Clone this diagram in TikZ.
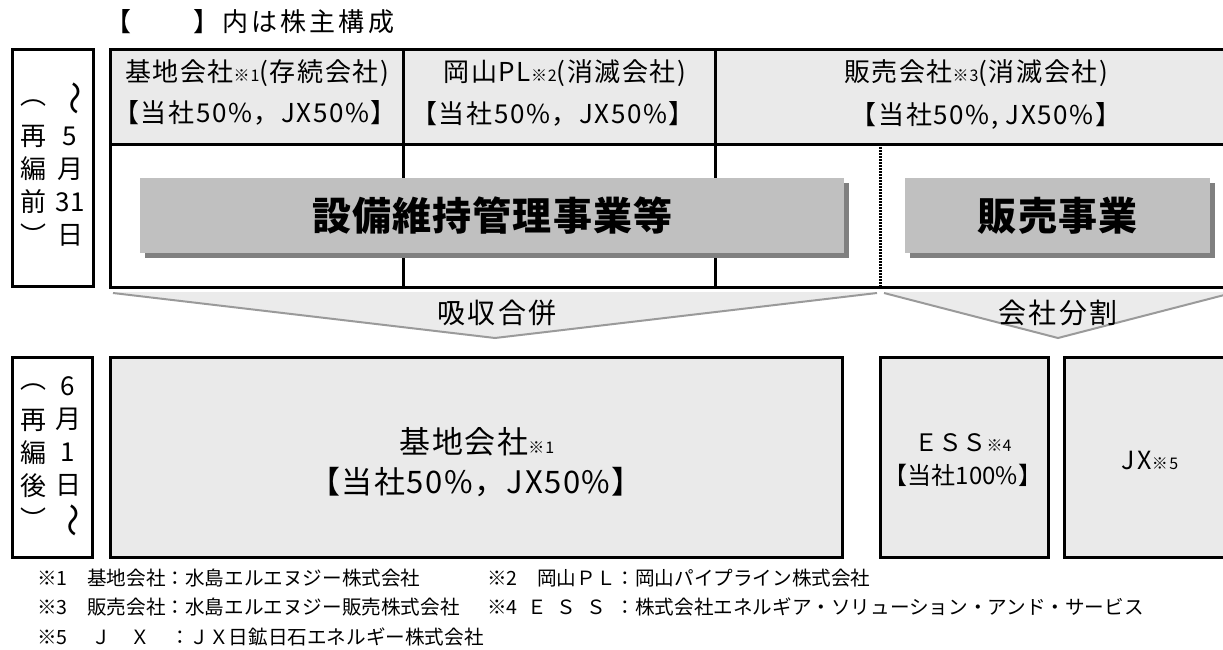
\documentclass[tikz,border=0pt]{standalone}
\usepackage{fontspec}
\setmainfont{Noto Sans CJK JP}
\usetikzlibrary{shadows,positioning}

\definecolor{hdrgray}{HTML}{EAEAEA}
\definecolor{bizgray}{HTML}{C0C0C0}
\definecolor{shadowgray}{HTML}{808080}
\definecolor{arrowgray}{HTML}{EBEBEB}
\definecolor{edgegray}{HTML}{9A9A9A}

\newcommand{\kome}[1]{{\fontsize{16}{16}\selectfont ※#1}}

\tikzset{
    frame/.style={draw=black, line width=3pt},
    headline/.style={font=\fontsize{26}{26}\selectfont\addfontfeature{LetterSpace=12}, inner sep=0pt},
    hdrtext/.style={font=\fontsize{26}{26}\selectfont\addfontfeature{LetterSpace=6}, inner sep=0pt},
    biz/.style={fill=bizgray, inner sep=0pt,
        font=\fontsize{39}{39}\selectfont\bfseries\addfontfeature{LetterSpace=3},
        drop shadow={fill=shadowgray, opacity=1, shadow xshift=5pt, shadow yshift=-5pt}},
    arrowtext/.style={font=\fontsize{28}{28}\selectfont\addfontfeature{LetterSpace=8}, inner sep=0pt},
    bigtext/.style={font=\fontsize{31}{31}\selectfont\addfontfeature{LetterSpace=5}, inner sep=0pt},
    smalltext/.style={font=\fontsize{24}{24}\selectfont, inner sep=0pt},
    vchar/.style={font=\fontsize{26}{26}\selectfont, inner sep=0pt},
    note/.style={font=\fontsize{19.6}{19.6}\selectfont, anchor=west, inner sep=0pt},
}

\begin{document}
\begin{tikzpicture}[x=1pt, y=-1pt]
    \useasboundingbox (0,0) rectangle (1223,650);

    \node[headline] (heading) at (250,22) {【　　】内は株主構成};

    % before: 5/31
    \draw[frame] (12,50) rectangle (93,286);
    \foreach \ch [count=\i from 0] in {︵,再,編,前,︶} {
        \node[vchar] (pre-\i) at (33,103+33*\i) {\ch};
    }
    \node[vchar, rotate=-90, scale=1.3] (pre-wave) at (71,98) {～};
    \foreach \ch [count=\i from 1] in {5,月,31,日} {
        \node[vchar] (predate-\i) at (70,103+33*\i) {\ch};
    }

    \fill[hdrgray] (110,50) rectangle (1240,145);
    \draw[frame] (110,145) -- (1240,145);
    \draw[frame] (403,50) -- (403,287);
    \draw[frame] (715,50) -- (715,287);
    \draw[frame, dash pattern=on 1.5pt off 1.5pt] (880,147) -- (880,286);
    \draw[frame] (110,50) rectangle (1240,287);

    \node[hdrtext] (base-name) at (257,73) {基地会社\kome{1}(存続会社)};
    \node[hdrtext] (base-share) at (255,113) {【当社50\%，JX50\%】};
    \node[hdrtext] (pl-name) at (565,73) {岡山PL\kome{2}(消滅会社)};
    \node[hdrtext] (pl-share) at (553,114) {【当社50\%，JX50\%】};
    \node[hdrtext] (sales-name) at (976,73) {販売会社\kome{3}(消滅会社)};
    \node[hdrtext] (sales-share) at (986,116) {【当社50\%, JX50\%】};

    \node[biz, minimum width=704pt, minimum height=75pt, anchor=north west] (maint) at (140,178) {設備維持管理事業等};
    \node[biz, minimum width=305pt, minimum height=75pt, anchor=north west] (sales) at (905,178) {販売事業};

    % arrows
    \fill[arrowgray] (113,292) -- (877,292) -- (495,338) -- cycle;
    \draw[edgegray, line width=2pt] (113,293) -- (495,338) -- (877,293);
    \node[arrowtext] (merge) at (497,313) {吸収合併};
    \fill[arrowgray] (884,292) -- (1232,292) -- (1058,338) -- cycle;
    \draw[edgegray, line width=2pt] (884,293) -- (1058,338) -- (1232,293);
    \node[arrowtext] (split) at (1058,313) {会社分割};

    % after: 6/1
    \draw[frame] (12,357) rectangle (92,557);
    \foreach \ch [count=\i from 0] in {︵,再,編,後,︶} {
        \node[vchar] (post-\i) at (33,387+33*\i) {\ch};
    }
    \foreach \ch [count=\i from 0] in {6,月,1,日} {
        \node[vchar] (postdate-\i) at (68,386+33*\i) {\ch};
    }
    \node[vchar, rotate=-90, scale=1.3] (post-wave) at (69,520) {～};

    \draw[frame, fill=hdrgray] (110,357) rectangle (842,557);
    \node[bigtext] (base-after) at (477,442) {基地会社\kome{1}};
    \node[bigtext] (base-after-share) at (476,482) {【当社50\%，JX50\%】};

    \draw[frame, fill=hdrgray] (880,357) rectangle (1048,557);
    \node[smalltext] (ess) at (963,443) {ＥＳＳ\kome{4}};
    \node[smalltext] (ess-share) at (963,475) {【当社100\%】};

    \draw[frame, fill=hdrgray] (1064,357) rectangle (1240,557);
    \node[smalltext, font=\fontsize{25}{25}\selectfont\addfontfeature{LetterSpace=10}] (jx) at (1150,460) {JX\kome{5}};

    % notes
    \node[note] (note-1) at (37,578) {※1　基地会社：水島エルエヌジー株式会社};
    \node[note] (note-3) at (37,607) {※3　販売会社：水島エルエヌジー販売株式会社};
    \node[note] (note-4) at (487,607) {※4\enspace Ｅ\enspace Ｓ\enspace Ｓ\enspace ：株式会社エネルギア・ソリューション・アンド・サービス};
    \node[note] (note-2) at (note-4.west |- note-1.west) {※2　岡山ＰＬ：岡山パイプライン株式会社};
    \node[note] (note-5) at (37,637) {※5　 Ｊ　Ｘ　：ＪＸ日鉱日石エネルギー株式会社};
\end{tikzpicture}
\end{document}
